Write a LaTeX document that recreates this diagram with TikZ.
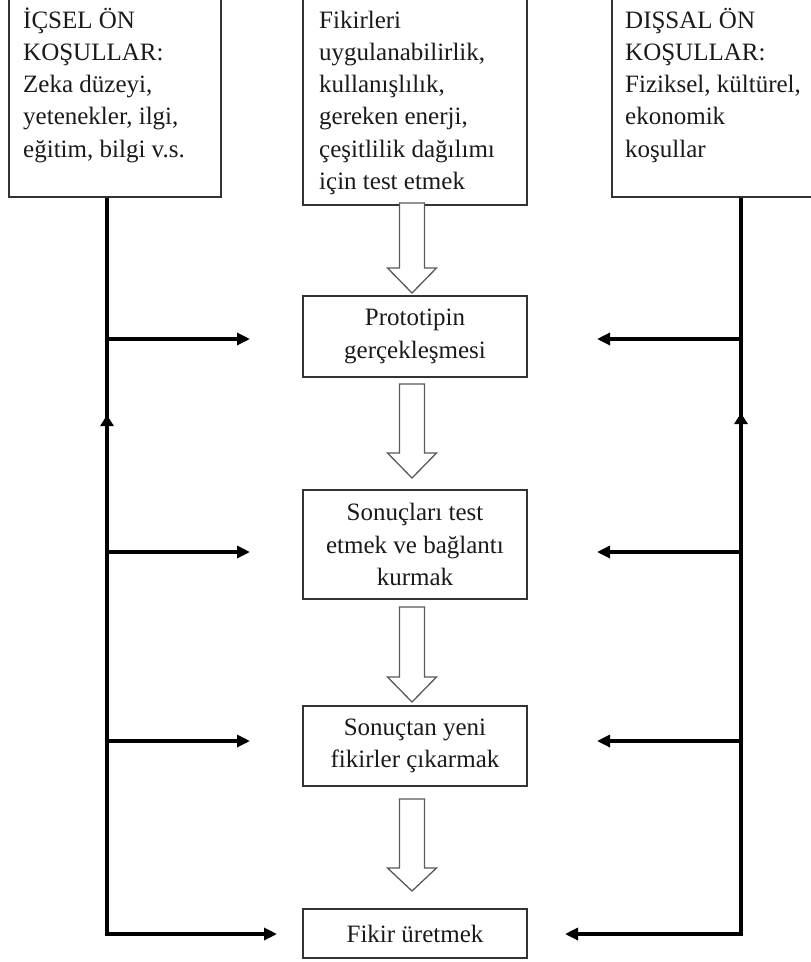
\documentclass[tikz,border=0pt]{standalone}
\usepackage{fontspec}
\setmainfont{Liberation Serif}
\usetikzlibrary{arrows.meta}
\newcommand{\fsz}{\fontsize{25}{32.3}\selectfont}
\definecolor{boxc}{HTML}{333333}
\definecolor{txtc}{HTML}{1A1A1A}
\tikzset{
  box/.style={draw=boxc, line width=1.8pt, inner sep=0pt, align=center, font=\fsz, text=txtc, minimum width=224pt},
  txt/.style={inner sep=0pt, align=left, font=\fsz, text=txtc, anchor=base west},
  hollow/.style={draw=black!65, line width=1.3pt, fill=white, line join=miter},
  feed/.style={line width=3.2pt, black},
  tipr/.style={-{Triangle[length=13pt,width=12pt]}},
  tipu/.style={-{Triangle[length=11pt,width=13pt]}},
}
\newcommand{\hollowarrow}[3]{%
  \draw[hollow] (399.5,#1) -- (399.5,#2) -- (387.5,#2) -- (412,#3) -- (436.5,#2) -- (424.5,#2) -- (424.5,#1) -- cycle;}
\begin{document}
\begin{tikzpicture}[x=1pt,y=-1pt]
\useasboundingbox (0,0) rectangle (811,962);
% top boxes (base anchor = baseline of the last line)
\node[box, minimum width=212pt, minimum height=200pt] (L) at (115,97) {};
\node[txt] (Lt) at (23,157.2) {İÇSEL ÖN\\KOŞULLAR:\\Zeka düzeyi,\\yetenekler, ilgi,\\eğitim, bilgi v.s.};
\node[box, minimum height=209pt] (M) at (415,100.5) {};
\node[txt] (Mt) at (319,189.5) {Fikirleri\\uygulanabilirlik,\\kullanışlılık,\\gereken enerji,\\çeşitlilik dağılımı\\için test etmek};
\node[box, minimum width=205pt, minimum height=200pt] (R) at (714.5,97) {};
\node[txt] (Rt) at (625,157.2) {DIŞSAL ÖN\\KOŞULLAR:\\Fiziksel, kültürel,\\ekonomik\\koşullar};
% middle boxes
\node[box, minimum height=81pt] (P) at (415,336.5) {Prototipin\\gerçekleşmesi};
\node[box, minimum height=109pt] (S) at (415,544.5) {Sonuçları test\\etmek ve bağlantı\\kurmak};
\node[box, minimum height=80pt] (Y) at (415,746) {Sonuçtan yeni\\fikirler çıkarmak};
\node[box, minimum height=49pt] (F) at (415,933.5) {Fikir üretmek};
% hollow arrows
\hollowarrow{203}{268}{293}
\hollowarrow{384}{453}{478}
\hollowarrow{607}{677}{702}
\hollowarrow{799}{868}{891}
% coordinates
\coordinate (Lx) at (107,934);
\coordinate (Rx) at (741,934);
\coordinate (Lend) at (277,934);
\coordinate (Rend) at (565,934);
\coordinate (Lup) at (107,415);
\coordinate (Rup) at (741,413);
\coordinate (la1) at (107,339); \coordinate (lt1) at (250,339);
\coordinate (la2) at (107,552); \coordinate (lt2) at (250,552);
\coordinate (la3) at (107,741); \coordinate (lt3) at (250,741);
\coordinate (ra1) at (741,339); \coordinate (rt1) at (597,339);
\coordinate (ra2) at (741,552); \coordinate (rt2) at (597,552);
\coordinate (ra3) at (741,741); \coordinate (rt3) at (597,741);
% feedback lines
\draw[feed, tipr] (L.south -| Lx) |- (Lend);
\draw[feed, tipr] (R.south -| Rx) |- (Rend);
\draw[feed, tipu] (Lx) -- (Lup);
\draw[feed, tipu] (Rx) -- (Rup);
\draw[feed, tipr] (la1) -- (lt1);
\draw[feed, tipr] (la2) -- (lt2);
\draw[feed, tipr] (la3) -- (lt3);
\draw[feed, tipr] (ra1) -- (rt1);
\draw[feed, tipr] (ra2) -- (rt2);
\draw[feed, tipr] (ra3) -- (rt3);
\end{tikzpicture}
\end{document}
